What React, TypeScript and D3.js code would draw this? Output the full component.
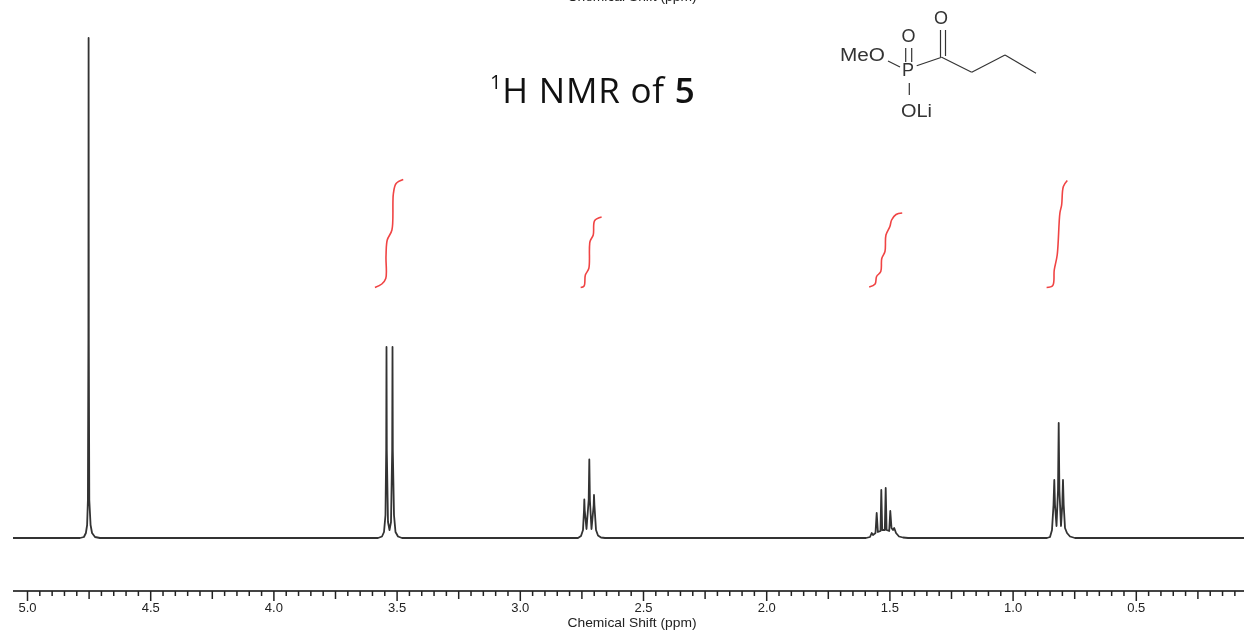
import { useEffect, useRef } from "react";
import * as d3 from "d3";

// peak clusters: chemical shift (ppm) and intensity (% of tallest)
const solventShift = [4.785, 4.769, 4.761, 4.756, 4.7528, 4.7508, 4.75, 4.7492, 4.7472, 4.742, 4.736, 4.724, 4.704];
const solventInt = [0, 0.2, 1, 2.6, 7.6, 39.6, 100, 39.6, 7.6, 2.6, 1, 0.2, 0];

const methoxyShift = [3.5755, 3.5593, 3.5511, 3.5451, 3.5422, 3.541, 3.5398, 3.5349, 3.5288, 3.5227, 3.5179, 3.5166, 3.5154, 3.5106, 3.5045, 3.4943, 3.4781];
const methoxyInt = [0, 0.3, 1.2, 4.6, 17.6, 38.2, 17.6, 3.2, 1.6, 3.2, 17.6, 38.2, 17.6, 4.6, 1.2, 0.3, 0];

const alphaShift = [2.7638, 2.7516, 2.7435, 2.7394, 2.7382, 2.7366, 2.7293, 2.7204, 2.7179, 2.7155, 2.709, 2.7001, 2.6989, 2.6972, 2.6907, 2.6826, 2.6705, 2.6542];
const alphaInt = [0, 0.4, 1.6, 5.6, 7.7, 5.6, 1.8, 7.6, 15.7, 7.6, 1.8, 6.6, 8.6, 6.6, 1.6, 0.5, 0.1, 0];

const betaShift = [1.595, 1.5787, 1.5718, 1.5666, 1.5564, 1.5516, 1.5467, 1.5361, 1.5329, 1.5292, 1.5187, 1.515, 1.5114, 1.5008, 1.4964, 1.4915, 1.4854, 1.4805, 1.4732, 1.461, 1.4448, 1.4245];
const betaInt = [0, 0.2, 1, 0.6, 1, 5, 1.2, 1.4, 9.6, 1.6, 1.6, 10, 1.6, 1.4, 5.4, 2, 1.6, 2, 1, 0.3, 0.1, 0];

const methylShift = [0.8604, 0.8482, 0.8401, 0.834, 0.8308, 0.8279, 0.8218, 0.8157, 0.8129, 0.8101, 0.8036, 0.7983, 0.7955, 0.7926, 0.7873, 0.7792, 0.767, 0.7468];
const methylInt = [0, 0.2, 1.6, 6.6, 11.6, 6.6, 2.4, 9.6, 23, 9.6, 2.4, 6.6, 11.6, 6.6, 2, 1, 0.3, 0];

// integral traces, same units
const integralA = [[3.588, 50.1], [3.56, 50.8], [3.544, 51.9], [3.543, 56.3], [3.538, 59.6], [3.519, 61.6], [3.513, 68.9], [3.502, 70.9], [3.473, 71.7]];
const integralB = [[2.753, 50.1], [2.739, 50.4], [2.734, 52.6], [2.72, 53.9], [2.715, 59.3], [2.702, 60.6], [2.696, 63.5], [2.668, 64.2]];
const integralC = [[1.582, 50.2], [1.558, 50.8], [1.552, 52.3], [1.535, 53.3], [1.531, 55.9], [1.518, 57.3], [1.514, 60.6], [1.498, 62.3], [1.491, 63.6], [1.473, 64.7], [1.448, 65]];
const integralD = [[0.862, 50.1], [0.837, 50.5], [0.831, 53.6], [0.819, 56.6], [0.808, 65], [0.801, 66.6], [0.794, 70.3], [0.778, 71.5]];

const tickLabels = [5, 4.5, 4, 3.5, 3, 2.5, 2, 1.5, 1, 0.5];

const width = 1244;
const height = 632;

const x = d3.scaleLinear().domain([5, 0]).range([27, 1259]);
const y = d3.scaleLinear().domain([0, 100]).range([538, 38]);

const clusters = [
  [solventShift, solventInt],
  [methoxyShift, methoxyInt],
  [alphaShift, alphaInt],
  [betaShift, betaInt],
  [methylShift, methylInt],
];

const spectrum: [number, number][] = [[x.invert(13), 0]];
clusters.forEach(([s, v]) => s.forEach((d, i) => spectrum.push([d, v[i]])));
spectrum.push([x.invert(width), 0]);

const spectrumLine = d3
  .line<[number, number]>()
  .x((d) => x(d[0]))
  .y((d) => y(d[1]));

const integralLine = d3
  .line<number[]>()
  .x((d) => x(d[0]))
  .y((d) => y(d[1]))
  .curve(d3.curveCatmullRom);

const fontSans = "'Liberation Sans', Arial, sans-serif";

function Molecule() {
  const bonds = [
    [888, 61, 900, 67],
    [905.7, 48, 905.7, 62],
    [911.7, 48, 911.7, 62],
    [916.7, 65.7, 941.7, 57.3],
    [940.5, 30, 940.5, 57],
    [945.5, 30, 945.5, 56],
    [941.7, 57.3, 971.7, 72.3],
    [971.7, 72.3, 1005, 55],
    [1005, 55, 1036, 73.3],
    [909.3, 83, 909.3, 95],
  ];
  return (
    <g fontFamily={fontSans} fontSize={18} fill="#333">
      {bonds.map((b, i) => (
        <line key={i} x1={b[0]} y1={b[1]} x2={b[2]} y2={b[3]} stroke="#333" strokeWidth={1.2} />
      ))}
      <text x={840} y={61} textLength={45} lengthAdjust="spacingAndGlyphs">MeO</text>
      <text x={908.5} y={42} textAnchor="middle">O</text>
      <text x={908} y={76} textAnchor="middle">P</text>
      <text x={941} y={24} textAnchor="middle">O</text>
      <text x={901} y={117} textLength={31} lengthAdjust="spacingAndGlyphs">OLi</text>
    </g>
  );
}

export default function App() {
  const axisRef = useRef<SVGGElement>(null);

  useEffect(() => {
    const axis = d3.select(axisRef.current);
    axis.selectAll("*").remove();
    // 0.05 ppm minor ticks, longer every 0.25, labelled every 0.5
    const ticks = x.ticks(100).filter((t) => t > 0.06 && t < 5.06);
    axis.call(
      d3
        .axisBottom(x)
        .tickValues(ticks)
        .tickSize(0)
        .tickFormat(() => "")
    );
    axis.select(".domain").attr("d", `M13,0H${width}`).attr("stroke", "#444").attr("stroke-width", 2);
    axis
      .selectAll<SVGLineElement, number>(".tick line")
      .attr("stroke", "#222")
      .attr("stroke-width", 1.5)
      .attr("y2", (d) => {
        const k = Math.round(d * 20);
        if (k % 10 === 0) return 10;
        return k % 5 === 0 ? 8 : 5;
      });
    axis
      .selectAll<SVGTextElement, number>(".tick text")
      .attr("y", 12)
      .attr("dy", "0.71em")
      .attr("fill", "#222")
      .attr("font-size", 13)
      .attr("font-family", fontSans)
      .text((d) => (tickLabels.some((t) => Math.abs(t - d) < 1e-6) ? d.toFixed(1) : ""));
  }, []);

  return (
    <svg
      width={width}
      height={height}
      viewBox={`0 0 ${width} ${height}`}
      style={{ position: "absolute", left: 0, top: 0, background: "#fff" }}
    >
      <defs>
        {/* the reference is a soft, rescaled screenshot */}
        <filter id="soft" filterUnits="userSpaceOnUse" x={0} y={-10} width={width} height={height + 20} colorInterpolationFilters="sRGB">
          <feGaussianBlur stdDeviation={0.45} />
        </filter>
      </defs>
      <g filter="url(#soft)">
        <text x={632} y={1} textAnchor="middle" fontFamily={fontSans} fontSize={13} fill="#222" textLength={129} lengthAdjust="spacingAndGlyphs">
          Chemical Shift (ppm)
        </text>

        <path d={spectrumLine(spectrum) ?? ""} fill="none" stroke="#333" strokeWidth={1.8} strokeLinejoin="round" />

        {[integralA, integralB, integralC, integralD].map((d, i) => (
          <path key={i} d={integralLine(d) ?? ""} fill="none" stroke="#f04444" strokeWidth={1.6} />
        ))}

        <g ref={axisRef} transform="translate(0,591)" />

        <text x={632} y={627} textAnchor="middle" fontFamily={fontSans} fontSize={13} fill="#222" textLength={129} lengthAdjust="spacingAndGlyphs">
          Chemical Shift (ppm)
        </text>

        <text x={490} y={103} fontFamily="'Open Sans', Lato, sans-serif" fontSize={35} fill="#111" letterSpacing={0.8}>
          <tspan fontSize={20} dy={-14}>1</tspan>
          <tspan dy={14}>H NMR of </tspan>
          <tspan fontWeight={600}>5</tspan>
        </text>

        <Molecule />
      </g>
    </svg>
  );
}
